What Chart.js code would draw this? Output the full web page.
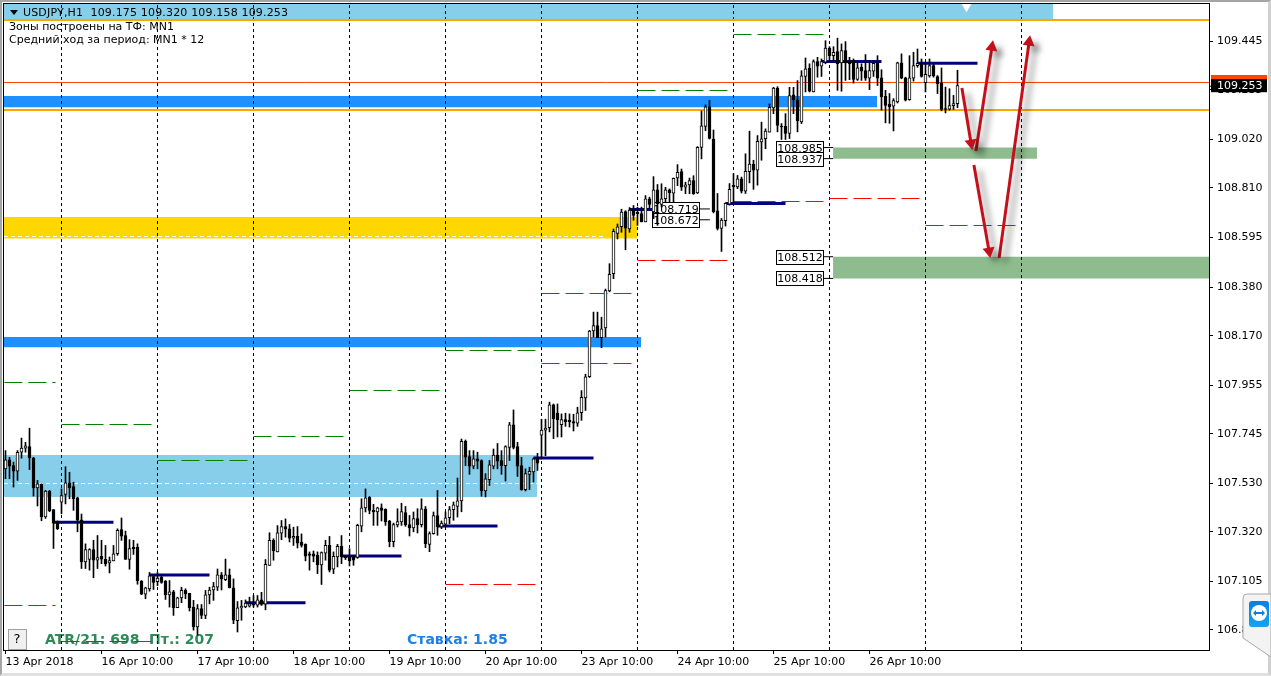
<!DOCTYPE html>
<html>
<head>
<meta charset="utf-8">
<title>USDJPY,H1</title>
<script src="https://cdn.jsdelivr.net/npm/chart.js@4"></script>
<style>
html,body{margin:0;padding:0;background:#fff;width:1271px;height:676px;overflow:hidden}
#chrome{position:absolute;left:0;top:0;width:1271px;height:676px;box-sizing:border-box;border-top:2px solid #a4a4a4;border-left:2px solid #a4a4a4;border-right:3px solid #d0d0d0;border-bottom:3px solid #e0e0e0}
#c{position:absolute;left:0;top:0}
#tv{position:absolute;left:1242px;top:593px}
</style>
</head>
<body>
<div id="chrome"></div>
<canvas id="c" width="1271" height="676"></canvas>
<svg id="tv" width="29" height="66" viewBox="0 0 29 66">
<defs><linearGradient id="g" x1="0" y1="0" x2="0" y2="1"><stop offset="0" stop-color="#0a7fe0"/><stop offset="1" stop-color="#17a2f0"/></linearGradient></defs>
<path d="M29 1 L5 1 Q1 1 1 5 L1 45 L29 64 Z" fill="#f3f3f3" stroke="#a8a8a8"/>
<rect x="7" y="8" width="20" height="26" rx="3" fill="url(#g)"/>
<circle cx="17" cy="20" r="8" fill="#fff"/>
<path d="M11 20 l3 -3 v2 h6 v-2 l3 3 l-3 3 v-2 h-6 v2 z" fill="#0a7fe0"/>
</svg>
<script>
const dayTicks = [0,24,48,72,96,120,144,168,192,216];
const dayLabels = ["13 Apr 2018","16 Apr 10:00","17 Apr 10:00","18 Apr 10:00","19 Apr 10:00","20 Apr 10:00","23 Apr 10:00","24 Apr 10:00","25 Apr 10:00","26 Apr 10:00"];
const dayLines = [14,38,62,86,110,134,158,182,206,230,254];
const priceTicks = [109.445,109.235,109.020,108.810,108.595,108.380,108.170,107.955,107.745,107.530,107.320,107.105,106.895];

const opens = [107.593,107.632,107.607,107.583,107.665,107.683,107.689,107.640,107.510,107.526,107.385,107.497,
107.416,107.363,107.449,107.482,107.532,107.516,107.467,
107.372,107.190,107.200,107.243,107.197,107.214,107.201,107.185,107.194,107.225,107.330,107.304,107.201,107.253,107.253,
107.107,107.050,107.073,107.126,107.104,107.123,107.107,107.047,107.060,106.991,107.034,107.066,107.053,106.994,106.908,106.988,106.958,107.047,107.068,107.080,107.134,107.113,107.134,107.077,106.935,106.991,106.995,106.998,107.008,107.002,107.025,
107.007,107.175,107.283,107.233,107.314,107.343,107.333,107.293,107.300,107.274,107.266,107.225,107.225,107.218,107.177,107.228,107.261,107.158,107.211,107.257,107.215,107.211,107.211,
107.209,107.345,107.424,107.470,107.413,107.406,107.424,107.417,107.367,107.277,107.350,107.363,107.403,107.351,107.337,107.377,107.351,107.420,107.265,107.312,107.390,107.341,107.353,107.381,107.416,107.430,
107.454,107.712,107.646,107.604,107.636,107.629,107.497,107.546,107.604,107.653,107.629,107.607,107.686,107.784,107.689,107.607,107.503,107.569,107.580,107.640,107.739,107.761,
107.771,107.870,107.834,107.784,107.806,107.803,107.798,107.791,107.836,107.900,
107.992,108.190,108.214,108.161,108.204,
108.364,108.439,108.613,108.642,108.708,108.632,
108.716,108.704,108.699,108.663,108.763,108.706,108.802,108.739,108.763,108.802,108.787,108.853,108.881,108.813,108.823,108.842,
108.788,108.986,109.077,109.161,109.022,108.711,108.635,108.668,108.740,108.821,108.814,108.850,108.796,
108.880,108.913,108.887,109.009,109.023,109.052,
109.157,109.243,109.078,109.077,109.046,109.213,109.192,109.096,
109.293,109.329,109.226,109.358,109.338,109.355,109.416,109.383,109.401,109.352,109.405,109.355,109.362,109.280,109.333,109.319,109.286,109.316,109.350,109.287,109.207,109.173,109.164,109.183,109.352,109.287,109.193,109.286,109.340,109.348,109.266,109.295,109.340,109.293,109.264,109.153,109.151,109.167,109.175];

const closes = [107.632,107.604,107.583,107.665,107.683,107.693,107.640,107.510,107.528,107.385,107.497,107.411,
107.358,107.334,107.477,107.532,107.510,107.463,107.370,
107.190,107.243,107.243,107.197,107.208,107.202,107.182,107.195,107.225,107.326,107.301,107.201,107.247,107.247,107.108,
107.050,107.077,107.129,107.101,107.120,107.101,107.047,107.060,106.991,107.034,107.066,107.051,106.991,106.908,106.988,106.958,107.047,107.068,107.083,107.134,107.116,107.134,107.077,106.937,106.991,106.997,107.011,107.008,107.002,107.025,107.005,
107.179,107.283,107.237,107.316,107.343,107.331,107.293,107.300,107.271,107.261,107.215,107.218,107.215,107.177,107.230,107.261,107.154,107.214,107.257,107.211,107.208,107.194,107.197,
107.348,107.424,107.467,107.413,107.406,107.424,107.413,107.363,107.277,107.351,107.364,107.408,107.350,107.337,107.377,107.351,107.420,107.269,107.312,107.390,107.341,107.358,107.381,107.416,107.437,107.454,
107.712,107.643,107.604,107.636,107.626,107.497,107.550,107.610,107.653,107.626,107.607,107.689,107.784,107.686,107.604,107.503,107.572,107.582,107.636,107.617,107.761,107.769,
107.870,107.810,107.806,107.806,107.796,107.796,107.791,107.836,107.903,107.992,
108.190,108.214,108.161,108.200,108.365,
108.436,108.622,108.642,108.705,108.636,108.714,
108.691,108.699,108.663,108.763,108.739,108.802,108.742,108.763,108.802,108.789,108.852,108.878,108.813,108.823,108.842,108.785,
108.986,109.079,109.161,109.025,108.707,108.635,108.671,108.743,108.804,108.814,108.850,108.796,108.882,
108.913,108.887,109.012,109.023,109.056,109.159,
109.243,109.081,109.074,109.046,109.210,109.192,109.100,109.296,
109.326,109.229,109.358,109.338,109.358,109.416,109.383,109.398,109.348,109.405,109.352,109.348,109.280,109.330,109.316,109.286,109.319,109.350,109.286,109.204,109.168,109.161,109.188,109.352,109.286,109.190,109.287,109.340,109.350,109.293,109.302,109.340,109.295,109.262,109.150,109.150,109.167,109.176,109.253];

const highs = [107.672,107.643,107.622,107.672,107.726,107.708,107.769,107.643,107.543,107.528,107.500,107.500,
107.416,107.367,107.506,107.602,107.578,107.535,107.470,
107.397,107.268,107.247,107.283,107.304,107.283,107.261,107.211,107.261,107.333,107.380,107.323,107.286,107.283,107.268,
107.109,107.080,107.144,107.130,107.144,107.130,107.109,107.109,107.066,107.037,107.080,107.073,107.054,107.023,107.005,107.005,107.066,107.080,107.101,107.159,107.144,107.202,107.159,107.116,107.018,107.023,107.025,107.037,107.044,107.044,107.058,
107.200,107.316,107.290,107.347,107.369,107.376,107.352,107.340,107.343,107.311,107.268,107.233,107.237,107.233,107.233,107.283,107.300,107.233,107.266,107.304,107.218,107.247,107.218,
107.353,107.463,107.506,107.473,107.439,107.427,107.441,107.420,107.370,107.358,107.420,107.444,107.430,107.391,107.406,107.420,107.463,107.430,107.320,107.406,107.499,107.367,107.406,107.430,107.449,107.553,
107.722,107.718,107.672,107.672,107.665,107.632,107.572,107.629,107.679,107.703,107.672,107.693,107.794,107.848,107.708,107.643,107.593,107.600,107.640,107.660,107.808,107.808,
107.882,107.874,107.874,107.831,107.834,107.831,107.829,107.860,107.932,108.003,
108.193,108.272,108.272,108.250,108.372,
108.482,108.632,108.654,108.718,108.711,108.725,
108.734,108.727,108.727,108.777,108.770,108.859,108.825,108.828,108.813,108.806,108.853,108.911,108.892,108.835,108.853,108.863,
108.989,109.144,109.170,109.190,109.061,108.786,108.678,108.745,108.829,108.872,108.864,108.857,108.958,
109.056,108.930,109.037,109.095,109.066,109.174,
109.246,109.249,109.089,109.132,109.246,109.246,109.275,109.318,
109.373,109.348,109.365,109.376,109.369,109.448,109.422,109.422,109.459,109.434,109.444,109.376,109.369,109.355,109.348,109.388,109.359,109.362,109.383,109.322,109.233,109.219,109.197,109.355,109.391,109.290,109.383,109.398,109.412,109.369,109.350,109.369,109.348,109.297,109.330,109.247,109.240,109.211,109.320];

const lows = [107.550,107.550,107.514,107.543,107.639,107.665,107.590,107.475,107.432,107.368,107.378,107.407,
107.248,107.330,107.398,107.441,107.463,107.413,107.320,
107.161,107.161,107.154,107.121,107.161,107.182,107.172,107.142,107.194,107.218,107.283,107.201,107.158,107.222,107.093,
107.048,107.030,107.063,107.070,107.087,107.097,107.027,106.994,106.958,106.991,107.013,107.030,106.977,106.894,106.872,106.944,106.944,107.008,107.023,107.066,107.068,107.109,107.077,106.922,106.886,106.937,106.991,106.994,106.994,106.994,107.001,
106.982,107.175,107.197,107.233,107.286,107.297,107.276,107.261,107.250,107.254,107.194,107.154,107.190,107.139,107.092,107.197,107.146,107.139,107.168,107.182,107.200,107.172,107.175,
107.205,107.320,107.406,107.398,107.348,107.348,107.367,107.348,107.255,107.255,107.341,107.348,107.344,107.302,107.320,107.315,107.341,107.251,107.234,107.310,107.305,107.334,107.341,107.355,107.370,107.384,
107.407,107.607,107.569,107.593,107.593,107.474,107.471,107.521,107.593,107.593,107.569,107.540,107.629,107.679,107.560,107.500,107.497,107.503,107.536,107.586,107.636,107.650,
107.753,107.724,107.731,107.731,107.777,107.774,107.757,107.777,107.803,107.846,
107.989,108.164,108.161,108.118,108.164,
108.360,108.417,108.589,108.618,108.542,108.618,
108.670,108.648,108.663,108.663,108.720,108.677,108.648,108.727,108.749,108.749,108.749,108.820,108.799,108.785,108.785,108.782,
108.786,108.936,109.058,109.022,108.702,108.628,108.535,108.645,108.735,108.743,108.807,108.788,108.786,
108.832,108.804,108.822,108.930,108.980,109.052,
109.132,109.053,109.020,109.020,109.024,109.132,109.053,109.089,
109.226,109.226,109.226,109.290,109.293,109.348,109.355,109.359,109.233,109.229,109.276,109.279,109.264,109.276,109.276,109.276,109.236,109.293,109.254,109.147,109.092,109.090,109.057,109.178,109.283,109.187,109.190,109.273,109.333,109.290,109.226,109.290,109.290,109.219,109.144,109.135,109.147,109.150,109.158];

const xMin = -0.375, xMax = 300.875, yMin = 106.808, yMax = 109.607;

const zoneStarts  = [xMin, xMin, xMin, xMin, xMin, 206.9, 206.9];
const zoneEnds    = [261.9, 217.9, 157.9, 158.9, 132.9, 257.9, xMax];
const zoneTops    = [109.607, 109.208, 108.684, 108.164, 107.653, 108.985, 108.512];
const zoneBottoms = [109.542, 109.160, 108.591, 108.120, 107.471, 108.937, 108.418];
const zoneColors  = ['#87ceeb','#1e90ff','#ffd700','#1e90ff','#87ceeb','#8fbc8f','#8fbc8f'];

const levelPrices = [109.5377, 109.1477, 109.2669];
const levelColors = ['#ffa500','#ffa500','#ff4500'];
const levelWidths = [2,2,1];

const whiteDashPrices = [108.5996, 107.5294];
const whiteDashEnds   = [150, 132.9];

const navyStarts = [12,36,60,84,108,132,156,180,204,228];
const navyPrices = [107.361,107.133,107.013,107.215,107.345,107.640,108.717,108.743,109.358,109.350];
const navySpan = 15;

const greenStarts = [-0.3,14,38,62,86,110,134,158,182];
const greenEnds   = [12.5,36.5,60.5,84.5,108.5,132.5,156.5,180.5,204.5];
const greenPrices = [107.9670,107.7851,107.6291,107.7331,107.9324,108.1057,108.3526,109.2322,109.4749];

const redStarts = [-0.3,14,110,134,158,182,206,230];
const redEnds   = [12.5,36.5,132.5,156.5,180.5,204.5,228.5,252.5];
const redPrices = [107.0008,106.8448,107.0918,108.0494,108.4956,108.7513,108.7643,108.6473];

const tagPrices = [108.985,108.937,108.512,108.418,108.719,108.672];
const tagBoxEnds = [204.4,204.4,204.4,204.4,173.4,173.4];
const tagLineEnds = [206.9,206.9,206.9,206.9,176.1,176.1];

const arrowFromX = [239.1,242.6,242.1,248.4];
const arrowFromY = [109.243,108.970,108.909,108.506];
const arrowToX   = [241.4,246.6,245.9,255.9];
const arrowToY   = [109.004,109.420,108.536,109.442];
const arrowTurns = [170,9,170,8];

const headerText = 'USDJPY,H1  109.175 109.320 109.158 109.253';
const noteLines = ['Зоны построены на ТФ: MN1','Средний ход за период: MN1 * 12'];
const atrText = 'ATR/21: 698  Пт.: 207';
const rateText = 'Ставка: 1.85';

const FONT = '11px "DejaVu Sans"';
const datasets = [];
const flatLine = (a,b,p,color,width,dash,order,label) => ({type:'line',label:label||'',data:[{x:a,y:p},{x:b,y:p}],borderColor:color,borderWidth:width,borderDash:dash||[],pointRadius:0,fill:false,order});

// zones
zoneTops.forEach((t,k)=>datasets.push({type:'line',label:'zone',data:[{x:zoneStarts[k],y:t},{x:zoneEnds[k],y:t}],borderWidth:0,borderColor:'transparent',backgroundColor:zoneColors[k],fill:{value:zoneBottoms[k]},pointRadius:0,order:100-(k===0?-5:0)}));
// day separators
dayLines.forEach(d=>datasets.push({type:'line',label:'day',data:[{x:d,y:yMin},{x:d,y:yMax}],borderColor:'#000',borderWidth:1,borderDash:[3,3],pointRadius:0,fill:false,order:90}));
// header notch
datasets.push({type:'line',label:'notch',data:[{x:240.25,y:109.597}],pointStyle:'triangle',pointRotation:180,pointRadius:6,pointBackgroundColor:'#fff',pointBorderWidth:0,showLine:false,order:89});
// level lines
levelPrices.forEach((p,k)=>datasets.push(flatLine(xMin,xMax,p,levelColors[k],levelWidths[k],null,85)));
whiteDashPrices.forEach((p,k)=>datasets.push(flatLine(xMin,whiteDashEnds[k],p,'#ffffff',1,[4,3],84)));
// dashed day range lines
greenPrices.forEach((p,k)=>datasets.push(flatLine(greenStarts[k],greenEnds[k],p,'#008000',1,[18,6],80)));
redPrices.forEach((p,k)=>datasets.push(flatLine(redStarts[k],redEnds[k],p,'#ff0000',1,[18,6],80)));
// navy levels
navyPrices.forEach((p,k)=>datasets.push(flatLine(navyStarts[k],navyStarts[k]+navySpan,p,'#000080',3,null,75)));
// tag leaders
tagPrices.forEach((p,k)=>datasets.push(flatLine(tagBoxEnds[k],tagLineEnds[k],p,'#000',1,null,74)));
// candles
datasets.push({type:'bar',label:'wicks',data:highs.map((h,k)=>({x:k,y:[lows[k],h]})),backgroundColor:'#000',borderWidth:0,barThickness:1,grouped:false,order:70});
const ups=[],downs=[];
opens.forEach((o,k)=>{(closes[k]>=o?ups:downs).push({x:k,y:[o,closes[k]]});});
datasets.push({type:'bar',label:'down',data:downs,backgroundColor:'#000',borderColor:'#000',borderWidth:1,borderSkipped:false,barThickness:3,grouped:false,minBarLength:1,order:60});
datasets.push({type:'bar',label:'up',data:ups,backgroundColor:'#fff',borderColor:'#000',borderWidth:1,borderSkipped:false,barThickness:3,grouped:false,minBarLength:1,order:60});
// arrows
arrowFromX.forEach((x,k)=>datasets.push({type:'line',label:'arrow',data:[{x,y:arrowFromY[k]},{x:arrowToX[k],y:arrowToY[k]}],borderColor:'#c3101a',borderWidth:3,fill:false,
  pointStyle:'triangle',pointRadius:[0,7],pointRotation:[0,arrowTurns[k]],pointBackgroundColor:'#c3101a',pointBorderWidth:0,order:10}));

const drawTag=(chart,k)=>{
  const {ctx,scales:{x,y}}=chart; const r=x.getPixelForValue(tagBoxEnds[k]); const m=y.getPixelForValue(tagPrices[k]);
  const w=47,h=14; const L=Math.round(r-w)+.5, T=Math.round(m-h/2)+.5;
  ctx.save(); ctx.fillStyle='#fff'; ctx.strokeStyle='#000'; ctx.lineWidth=1; ctx.fillRect(L,T,w,h); ctx.strokeRect(L,T,w,h);
  ctx.fillStyle='#000'; ctx.font=FONT; ctx.textAlign='center'; ctx.textBaseline='middle'; ctx.fillText(tagPrices[k].toFixed(3),L+w/2,T+h/2+.5); ctx.restore();
};

const noPad = s => { s.paddingLeft=0; s.paddingRight=0; s.paddingTop=0; s.paddingBottom=0; };

const overlay = {
  id:'overlay',
  beforeDatasetsDraw(chart){
    const {ctx}=chart; ctx.save();
    ctx.font='bold 14px "DejaVu Sans"'; ctx.textBaseline='middle'; ctx.textAlign='left';
    ctx.fillStyle='#2e8b57'; ctx.fillText(atrText,45,640);
    ctx.fillStyle='#1e7fe8'; ctx.fillText(rateText,407,640);
    ctx.restore();
  },
  beforeDatasetDraw(chart,args){
    const ds=chart.data.datasets[args.index];
    if(ds.label==='wicks'){ tagPrices.forEach((p,k)=>drawTag(chart,k)); }
    if(ds.label==='arrow'){ const c=chart.ctx; c.save(); c.shadowColor='rgba(0,0,0,.45)'; c.shadowBlur=6; c.shadowOffsetX=6; c.shadowOffsetY=5; }
  },
  afterDatasetDraw(chart,args){
    const ds=chart.data.datasets[args.index];
    if(ds.label==='arrow'){ chart.ctx.restore(); }
  },
  afterDraw(chart){
    const {ctx,scales:{y}}=chart; ctx.save();
    ctx.strokeStyle='#000'; ctx.lineWidth=1; ctx.strokeRect(3.5,3.5,1206,647);
    // header texts
    ctx.fillStyle='#000'; ctx.font=FONT; ctx.textBaseline='middle'; ctx.textAlign='left';
    ctx.beginPath(); ctx.moveTo(10,10); ctx.lineTo(18,10); ctx.lineTo(14,15); ctx.closePath(); ctx.fill();
    ctx.letterSpacing='0.17px';
    ctx.fillText(headerText,23,13);
    ctx.letterSpacing='0px';
    ctx.fillText(noteLines[0],9,27);
    ctx.fillText(noteLines[1],9,40);
    // help button
    ctx.fillStyle='#f0f0f0'; ctx.strokeStyle='#a0a0a0'; ctx.fillRect(8.5,629.5,18,20); ctx.strokeRect(8.5,629.5,18,20);
    ctx.fillStyle='#000'; ctx.font='13px "DejaVu Sans"'; ctx.textAlign='center'; ctx.fillText('?',17,640);
    // price flags
    const lp=y.getPixelForValue(levelPrices[2]); const cp=y.getPixelForValue(closes[closes.length-1]);
    ctx.fillStyle='#ff4500'; ctx.fillRect(1211,lp-7.5,56,14);
    ctx.fillStyle='#000'; ctx.fillRect(1211,cp-6.5,56,13);
    ctx.fillRect(1209,cp,3,1);
    ctx.fillStyle='#fff'; ctx.font=FONT; ctx.textAlign='left'; ctx.fillText(closes[closes.length-1].toFixed(3),1217,cp+.5);
    ctx.restore();
  }
};

new Chart(document.getElementById('c'),{
  type:'bar',
  data:{datasets},
  plugins:[overlay],
  options:{
    responsive:false,animation:false,devicePixelRatio:1,
    layout:{autoPadding:false,padding:{left:4,top:4,right:0,bottom:0}},
    plugins:{legend:{display:false},tooltip:{enabled:false},title:{display:false}},
    elements:{line:{tension:0}},
    scales:{
      x:{type:'linear',min:xMin,max:xMax,offset:false,
        afterBuildTicks(s){s.ticks=dayTicks.map(v=>({value:v}));},
        afterFit(s){s.height=26;noPad(s);},
        grid:{offset:false,drawOnChartArea:false,drawTicks:true,tickLength:4,color:'#000'},
        border:{display:false},
        ticks:{autoSkip:false,maxRotation:0,minRotation:0,align:'start',padding:2,color:'#000',font:{family:'"DejaVu Sans"',size:11},
          callback(v,i){return dayLabels[i];}}},
      y:{type:'linear',position:'right',min:yMin,max:yMax,
        afterBuildTicks(s){s.ticks=priceTicks.map(v=>({value:v}));},
        afterFit(s){s.width=62;noPad(s);},
        grid:{drawOnChartArea:false,drawTicks:true,tickLength:4,color:'#000'},
        border:{display:false},
        ticks:{autoSkip:false,padding:4,color:'#000',font:{family:'"DejaVu Sans"',size:11},
          callback(v){return v.toFixed(3);}}}
    }
  }
});
</script>
</body>
</html>
